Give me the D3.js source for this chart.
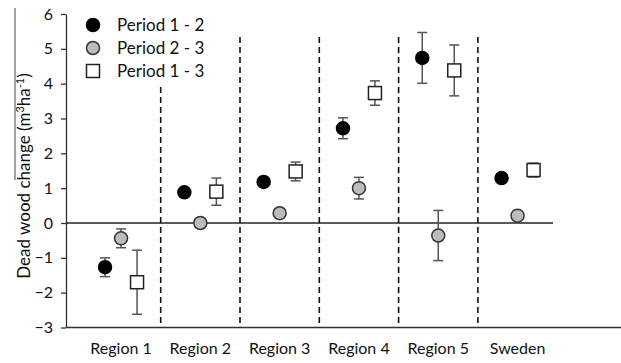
<!DOCTYPE html>
<html>
<head>
<meta charset="utf-8">
<script src="https://cdn.jsdelivr.net/npm/d3@7"></script>
<style>
  body { margin: 0; background: #fff; }
  svg { display: block; font-family: Lato, "Open Sans", sans-serif; }
</style>
</head>
<body>
<svg id="chart"></svg>
<script>
// data
var regions = ['Region 1', 'Region 2', 'Region 3', 'Region 4', 'Region 5', 'Sweden'];
var yTicks = [-3, -2, -1, 0, 1, 2, 3, 4, 5, 6];

var p12 = [-1.27, 0.88, 1.18, 2.72, 4.74, 1.29];
var p12err = [0.27, 0.07, 0.12, 0.3, 0.73, 0.08];
var p23 = [-0.44, 0.0, 0.28, 1.0, -0.36, 0.21];
var p23err = [0.27, 0.05, 0.12, 0.31, 0.72, 0.05];
var p13 = [-1.7, 0.9, 1.48, 3.73, 4.38, 1.52];
var p13err = [0.92, 0.39, 0.27, 0.35, 0.73, 0.2];

var width = 621;
var height = 363;

var series = [
  { name: 'Period 1 - 2', values: p12, err: p12err, shape: 'circle', fill: '#000', stroke: '#000', dx: -16 },
  { name: 'Period 2 - 3', values: p23, err: p23err, shape: 'circle', fill: '#bcbcbc', stroke: '#333', dx: 0 },
  { name: 'Period 1 - 3', values: p13, err: p13err, shape: 'square', fill: '#fff', stroke: '#222', dx: 16 }
];

var svg = d3.select('#chart')
    .attr('width', width)
    .attr('height', height);

var xScale = d3.scaleBand()
    .domain(regions)
    .range([81.4, 557.2]);

var yScale = d3.scaleLinear()
    .domain([-3, 6])
    .range([327.5, 14]);

var axisX = 66;

// y axis
var yAxis = d3.axisLeft(yScale)
    .tickValues(yTicks)
    .tickFormat(d3.format('d'))
    .tickSize(5)
    .tickSizeOuter(0);

var gy = svg.append('g')
    .attr('transform', 'translate(' + axisX + ',0)')
    .call(yAxis);
gy.select('.domain').attr('stroke', '#333').attr('stroke-width', 1.3);
gy.selectAll('.tick line').attr('stroke', '#333').attr('stroke-width', 1.3);
gy.selectAll('.tick text')
    .attr('x', -13)
    .style('font-size', '16px')
    .style('font-family', 'Lato, sans-serif')
    .attr('fill', '#111');

// bottom line
svg.append('line')
    .attr('x1', axisX).attr('x2', width)
    .attr('y1', yScale(-3)).attr('y2', yScale(-3))
    .attr('stroke', '#333').attr('stroke-width', 1.3);

// zero line
svg.append('line')
    .attr('x1', axisX).attr('x2', 553)
    .attr('y1', yScale(0)).attr('y2', yScale(0))
    .attr('stroke', '#222').attr('stroke-width', 1.6);

// dashed dividers between regions
svg.selectAll('.divider')
  .data(regions.slice(1))
  .enter()
  .append('line')
    .attr('class', 'divider')
    .attr('x1', d => xScale(d))
    .attr('x2', d => xScale(d))
    .attr('y1', (d, i) => i == 0 ? 87 : 37)
    .attr('y2', yScale(-3))
    .attr('stroke', '#111')
    .attr('stroke-width', 1.6)
    .attr('stroke-dasharray', '6,4');

// x labels
svg.selectAll('.xlabel')
  .data(regions)
  .enter()
  .append('text')
    .attr('class', 'xlabel')
    .attr('x', d => xScale(d) + xScale.bandwidth() / 2)
    .attr('y', 354)
    .style('text-anchor', 'middle')
    .style('font-size', '16px')
    .attr('fill', '#111')
    .text(d => d);

// y label
var ylab = svg.append('text')
  .attr('transform', 'rotate(-90)')
  .attr('x', -176)
  .attr('y', 30)
  .style('text-anchor', 'middle')
  .style('font-size', '17px')
  .attr('fill', '#111');
ylab.append('tspan').text('Dead wood change (m');
ylab.append('tspan').attr('dy', -6).style('font-size', '11px').text('3');
ylab.append('tspan').attr('dy', 6).text('ha');
ylab.append('tspan').attr('dy', -6).style('font-size', '11px').text('-1');
ylab.append('tspan').attr('dy', 6).text(')');

// stray line along the label in the scan
svg.append('line')
    .attr('x1', 15).attr('x2', 15)
    .attr('y1', 8).attr('y2', 180)
    .attr('stroke', '#444').attr('stroke-width', 1);

// error bars + markers
series.forEach(function(s) {
  var g = svg.append('g');
  var cx = (d, i) => xScale(regions[i]) + xScale.bandwidth() / 2 + s.dx;

  var eb = g.selectAll('.err')
    .data(s.values)
    .enter()
    .append('g')
      .attr('stroke', '#555')
      .attr('stroke-width', 1.5);
  eb.append('line')
    .attr('x1', cx).attr('x2', cx)
    .attr('y1', (d, i) => yScale(d + s.err[i]))
    .attr('y2', (d, i) => yScale(d - s.err[i]));
  eb.append('line')
    .attr('x1', (d, i) => cx(d, i) - 5).attr('x2', (d, i) => cx(d, i) + 5)
    .attr('y1', (d, i) => yScale(d + s.err[i]))
    .attr('y2', (d, i) => yScale(d + s.err[i]));
  eb.append('line')
    .attr('x1', (d, i) => cx(d, i) - 5).attr('x2', (d, i) => cx(d, i) + 5)
    .attr('y1', (d, i) => yScale(d - s.err[i]))
    .attr('y2', (d, i) => yScale(d - s.err[i]));

  if (s.shape == 'circle') {
    g.selectAll('.pt')
      .data(s.values)
      .enter()
      .append('circle')
        .attr('cx', cx)
        .attr('cy', d => yScale(d))
        .attr('r', 6.5)
        .attr('fill', s.fill)
        .attr('stroke', s.stroke)
        .attr('stroke-width', 1.5);
  } else {
    g.selectAll('.pt')
      .data(s.values)
      .enter()
      .append('rect')
        .attr('x', (d, i) => cx(d, i) - 6.5)
        .attr('y', d => yScale(d) - 6.5)
        .attr('width', 13)
        .attr('height', 13)
        .attr('fill', s.fill)
        .attr('stroke', s.stroke)
        .attr('stroke-width', 1.5);
  }
});

// legend
var legend = svg.selectAll('.legend')
  .data(series)
  .enter()
  .append('g')
    .attr('transform', (d, i) => 'translate(93,' + (25 + i * 23) + ')');

legend.each(function(s) {
  var g = d3.select(this);
  if (s.shape == 'circle') {
    g.append('circle').attr('r', 6.5)
      .attr('fill', s.fill).attr('stroke', s.stroke).attr('stroke-width', 1.5);
  } else {
    g.append('rect').attr('x', -6.5).attr('y', -6.5).attr('width', 13).attr('height', 13)
      .attr('fill', s.fill).attr('stroke', s.stroke).attr('stroke-width', 1.5);
  }
  g.append('text')
    .attr('x', 24)
    .attr('dy', '0.35em')
    .style('font-size', '17px')
    .attr('fill', '#111')
    .text(s.name);
});
</script>
</body>
</html>
